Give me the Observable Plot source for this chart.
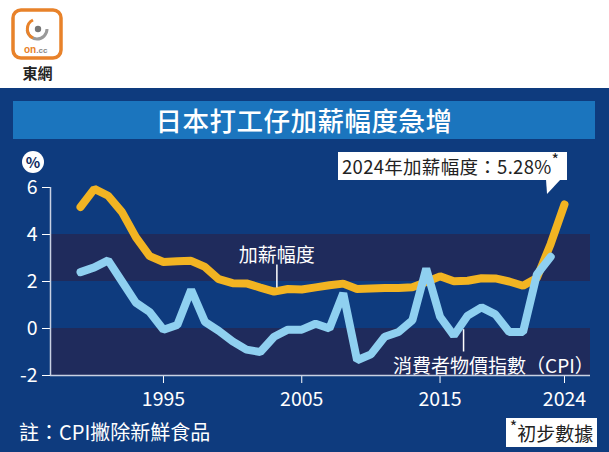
<!DOCTYPE html>
<html>
<head>
<meta charset="utf-8">
<script src="https://cdn.jsdelivr.net/npm/d3@7"></script>
<script src="https://cdn.jsdelivr.net/npm/@observablehq/plot@0.6"></script>
<style>
  html, body { margin: 0; padding: 0; background: #fff; }
  #wrap { position: relative; width: 609px; height: 452px; overflow: hidden; background: #fff;
          font-family: "Noto Sans CJK TC", "Noto Sans", sans-serif; }
  .abs { position: absolute; }
  #panel { left: 0; top: 88px; width: 609px; height: 364px; background: #0e3b7e; }
  #title { left: 13px; top: 101px; width: 582px; height: 38px; background: #1b75be; color: #fff;
           font-size: 26.5px; font-weight: 500; line-height: 38px; text-align: center; letter-spacing: 0.5px; }
  #chart { left: 0; top: 140px; }
  #pct { left: 22px; top: 151px; width: 22px; height: 22px; border-radius: 50%; background: #fff;
         color: #0e2a5e; font-size: 15px; font-weight: 700; line-height: 22px; text-align: center; }
  #callout { left: 338px; top: 152px; width: 229px; height: 28px; background: #fff; color: #222;
             font-size: 18.5px; line-height: 28px; padding-left: 4px; box-sizing: border-box; white-space: nowrap; letter-spacing: 0.3px; }
  #callout sup, #prelim sup { font-size: 16px; line-height: 0; position: relative; top: -1px; }
  #tail { left: 546px; top: 179px; width: 0; height: 0; border-left: 1px solid transparent;
          border-right: 14px solid transparent; border-top: 15px solid #fff; }
  #note { left: 19px; top: 420px; color: #fff; font-size: 20px; line-height: 24px; white-space: nowrap; }
  #prelim { left: 506px; top: 418px; width: 91px; height: 29px; background: #fff; color: #222;
            font-size: 19px; line-height: 29px; text-align: center; white-space: nowrap; }
  #brand { left: 15px; top: 62px; width: 45px; text-align: center; color: #222; font-size: 15px; font-weight: 700; }
</style>
</head>
<body>
<div id="wrap">
  <svg class="abs" style="left:0;top:0" width="80" height="62">
    <rect x="13" y="10" width="48" height="48" rx="8" fill="#fff" stroke="#e8822a" stroke-width="3.5"/>
    <circle cx="37" cy="29" r="10" fill="none" stroke="#9a9a9a" stroke-width="3" stroke-dasharray="30 40"/>
    <path d="M33 20 A10 10 0 0 0 33 38" fill="none" stroke="#e8822a" stroke-width="3"/>
    <circle cx="38" cy="29" r="3.2" fill="#777"/>
    <text x="24" y="53" font-family="Arial, sans-serif" font-size="10" font-weight="700" fill="#e8822a">on<tspan fill="#888" font-size="8">.cc</tspan></text>
  </svg>
  <div id="brand" class="abs">東網</div>
  <div id="panel" class="abs"></div>
  <div id="title" class="abs">日本打工仔加薪幅度急增</div>
  <div id="chart" class="abs"></div>
  <div id="pct" class="abs">%</div>
  <div id="callout" class="abs">2024年加薪幅度：5.28%<sup>*</sup></div>
  <div id="tail" class="abs"></div>
  <div id="note" class="abs">註：CPI撇除新鮮食品</div>
  <div id="prelim" class="abs"><sup>*</sup>初步數據</div>
</div>
<script>
// ---- data ----
const wageYears = [1989,1990,1991,1992,1993,1994,1995,1996,1997,1998,1999,2000,2001,2002,2003,2004,2005,2006,2007,2008,2009,2010,2011,2012,2013,2014,2015,2016,2017,2018,2019,2020,2021,2022,2023,2024];
const wageRise  = [5.17,5.94,5.65,4.95,3.89,3.08,2.83,2.86,2.88,2.62,2.10,1.93,1.92,1.74,1.57,1.68,1.66,1.75,1.84,1.91,1.68,1.70,1.72,1.72,1.76,1.98,2.22,2.01,2.03,2.14,2.13,2.00,1.82,2.15,3.60,5.28];
const cpiYears  = [1989,1990,1991,1992,1993,1994,1995,1996,1997,1998,1999,2000,2001,2002,2003,2004,2005,2006,2007,2008,2009,2010,2011,2012,2013,2014,2015,2016,2017,2018,2019,2020,2021,2022,2023];
const cpiValues = [2.4,2.6,2.9,2.0,1.1,0.7,-0.05,0.15,1.65,0.28,-0.1,-0.55,-0.9,-1.0,-0.35,-0.05,-0.05,0.2,0.0,1.5,-1.35,-1.1,-0.35,-0.15,0.35,2.55,0.5,-0.3,0.55,0.9,0.6,-0.15,-0.15,2.3,3.05];
const bandLo = [2, -2];
const bandHi = [4, 0];
const xTicks = [1995, 2005, 2015, 2024];
const yTicks = [-2, 0, 2, 4, 6];
const wageLabel = {name: "加薪幅度", year: 2003.2, value: 3.1, tipTop: 2.7, tipBottom: 1.72};
const cpiLabel = {name: "消費者物價指數（CPI）", year: 2011.6, value: -1.63, tipYear: 2016.7, tipTop: -1.0, tipBottom: -0.05};

const wage = wageYears.map((y, i) => ({year: y, value: wageRise[i]}));
const cpi = cpiYears.map((y, i) => ({year: y, value: cpiValues[i]}));
const bands = bandLo.map((lo, i) => ({lo, hi: bandHi[i]}));

const plot = Plot.plot({
  width: 609,
  height: 280,
  marginLeft: 50,
  marginRight: 19,
  marginTop: 47,
  marginBottom: 45,
  style: {fontFamily: '"Noto Sans CJK TC", "Noto Sans", sans-serif', fontSize: "19.5px", color: "#ffffff", background: "transparent", overflow: "visible"},
  x: {domain: [1986.83, 2025.88], ticks: xTicks, tickSize: 8, tickPadding: 9, tickFormat: d => String(d), label: null},
  y: {domain: [-2, 6], ticks: yTicks, tickSize: 8, tickPadding: 5, tickFormat: d => String(d), label: null},
  marks: [
    Plot.rect(bands, {y1: "lo", y2: "hi", fill: "#1f2b5c"}),
    Plot.ruleY([-2], {stroke: "#c9d1e3", strokeWidth: 1.5}),
    Plot.ruleX([1986.83], {y1: -2, y2: 6, stroke: "#c9d1e3", strokeWidth: 1.5}),
    Plot.line(wage, {x: "year", y: "value", stroke: "#f2b422", strokeWidth: 8, strokeLinecap: "round", strokeLinejoin: "miter"}),
    Plot.line(cpi, {x: "year", y: "value", stroke: "#8fd0f0", strokeWidth: 8, strokeLinecap: "round", strokeLinejoin: "miter"}),
    Plot.ruleX([wageLabel], {x: "year", y1: "tipTop", y2: "tipBottom", stroke: "#fff", strokeWidth: 1.5}),
    Plot.ruleX([cpiLabel], {x: "tipYear", y1: "tipTop", y2: "tipBottom", stroke: "#fff", strokeWidth: 1.5}),
    Plot.text([wageLabel], {x: "year", y: "value", text: "name", fill: "#fff", fontSize: 19, textAnchor: "middle", letterSpacing: 1}),
    Plot.text([cpiLabel], {x: "year", y: "value", text: "name", fill: "#fff", fontSize: 19, textAnchor: "start", letterSpacing: 0.3})
  ]
});
document.getElementById("chart").appendChild(plot);
</script>
</body>
</html>
